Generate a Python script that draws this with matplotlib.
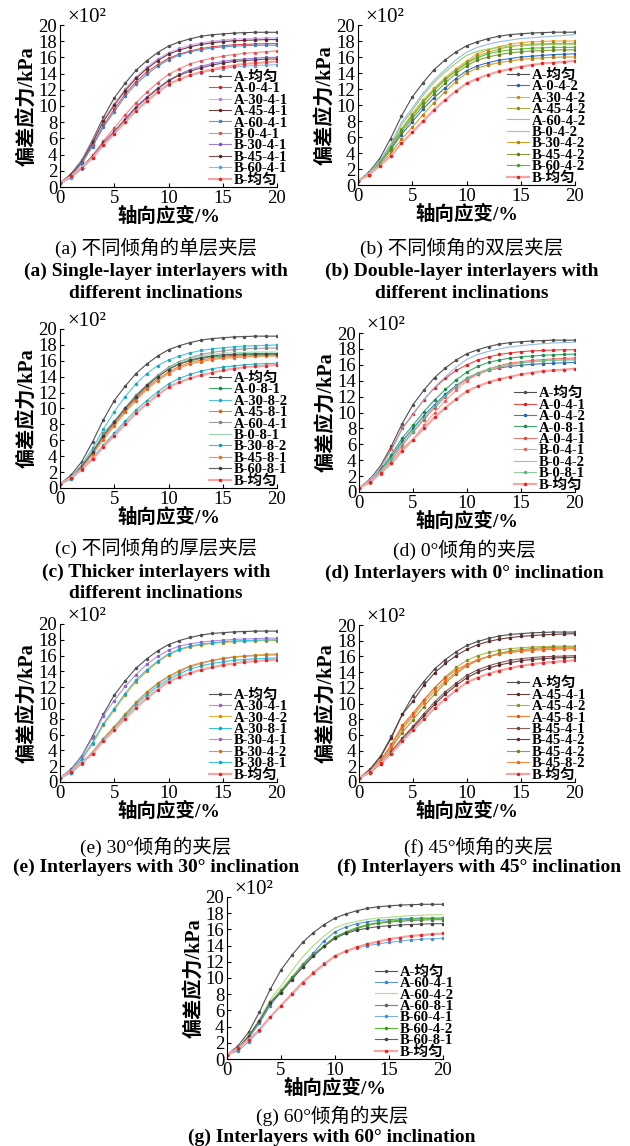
import matplotlib
matplotlib.use('Agg')
import matplotlib.pyplot as plt

plt.rcParams['font.family'] = ['Liberation Serif', 'Noto Sans CJK SC']
plt.rcParams['axes.unicode_minus'] = False

W, H = 630, 1146

# axial strain (%), values of deviatoric stress in units of 10^2 kPa
strain = list(range(0, 21))

a_uniform = [0.5, 1.6, 3.3, 5.8, 8.6, 11.0, 12.8, 14.4, 15.6, 16.6, 17.4, 17.9, 18.3, 18.6, 18.8, 18.9, 19.0, 19.05, 19.1, 19.1, 19.1]
b_uniform = [0.5, 1.3, 2.4, 3.6, 5.2, 6.6, 8.0, 9.4, 10.6, 11.7, 12.7, 13.3, 13.8, 14.2, 14.5, 14.8, 15.0, 15.2, 15.3, 15.4, 15.5]

# (a) single layer
a_A_0_4_1 = [0.5, 1.4, 3.0, 5.2, 7.6, 9.6, 11.5, 13.0, 14.2, 15.1, 15.9, 16.4, 16.8, 17.1, 17.3, 17.45, 17.55, 17.6, 17.65, 17.7, 17.7]
a_A_30_4_1 = [0.5, 1.5, 3.2, 5.6, 8.3, 10.3, 12.1, 13.6, 14.8, 15.8, 16.6, 17.1, 17.5, 17.8, 18.0, 18.15, 18.25, 18.3, 18.35, 18.4, 18.4]
a_A_45_4_1 = [0.5, 1.5, 3.1, 5.5, 8.1, 10.1, 11.9, 13.4, 14.6, 15.6, 16.4, 16.9, 17.3, 17.6, 17.8, 17.95, 18.05, 18.1, 18.15, 18.2, 18.2]
a_A_60_4_1 = [0.5, 1.3, 2.9, 5.0, 7.4, 9.3, 11.2, 12.7, 13.9, 14.9, 15.7, 16.3, 16.7, 16.95, 17.15, 17.3, 17.4, 17.45, 17.5, 17.5, 17.5]
a_B_0_4_1 = [0.5, 1.2, 2.4, 3.9, 5.7, 7.3, 8.9, 10.4, 11.7, 12.9, 13.9, 14.6, 15.2, 15.6, 15.9, 16.15, 16.35, 16.5, 16.6, 16.7, 16.8]
a_B_30_4_1 = [0.5, 1.2, 2.4, 3.8, 5.5, 6.9, 8.4, 9.9, 11.1, 12.2, 13.2, 13.9, 14.5, 14.9, 15.25, 15.5, 15.7, 15.8, 15.9, 16.0, 16.0]
a_B_45_4_1 = [0.5, 1.2, 2.4, 3.8, 5.4, 6.8, 8.3, 9.8, 11.0, 12.1, 13.1, 13.8, 14.3, 14.7, 15.05, 15.3, 15.5, 15.6, 15.7, 15.8, 15.8]
a_B_60_4_1 = [0.5, 1.1, 2.2, 3.6, 5.2, 6.6, 8.0, 9.4, 10.6, 11.7, 12.6, 13.3, 13.8, 14.1, 14.4, 14.6, 14.8, 14.9, 15.0, 15.05, 15.1]

# (b) double layer
b_A_0_4_2 = [0.5, 1.3, 2.7, 4.4, 6.3, 7.9, 9.5, 10.9, 12.1, 13.3, 14.3, 14.9, 15.3, 15.6, 15.8, 16.0, 16.1, 16.2, 16.3, 16.35, 16.4]
b_A_30_4_2 = [0.5, 1.4, 2.9, 4.9, 7.0, 8.9, 10.6, 12.1, 13.4, 14.5, 15.5, 16.4, 16.9, 17.3, 17.6, 17.8, 17.9, 17.95, 18.0, 18.0, 18.0]
b_A_45_4_2 = [0.5, 1.4, 2.9, 4.8, 6.9, 8.7, 10.4, 11.9, 13.2, 14.3, 15.3, 16.1, 16.6, 17.0, 17.3, 17.5, 17.6, 17.65, 17.7, 17.7, 17.7]
b_A_60_4_2 = [0.5, 1.5, 3.0, 5.0, 7.5, 9.3, 11.2, 12.8, 14.1, 15.2, 16.2, 16.7, 17.0, 17.2, 17.35, 17.45, 17.5, 17.55, 17.6, 17.6, 17.6]
b_B_0_4_2 = [0.5, 1.5, 3.0, 5.1, 7.8, 9.6, 11.5, 13.1, 14.4, 15.6, 16.6, 17.2, 17.6, 17.9, 18.1, 18.3, 18.4, 18.5, 18.6, 18.7, 18.8]
b_B_30_4_2 = [0.5, 1.2, 2.5, 4.0, 5.7, 7.2, 8.8, 10.3, 11.6, 12.9, 14.0, 14.6, 15.0, 15.3, 15.5, 15.7, 15.8, 15.9, 15.95, 16.0, 16.0]
b_B_45_4_2 = [0.5, 1.3, 2.7, 4.5, 6.6, 8.3, 9.9, 11.4, 12.7, 13.9, 14.9, 15.6, 16.0, 16.3, 16.5, 16.65, 16.75, 16.8, 16.85, 16.9, 16.9]
b_B_60_4_2 = [0.5, 1.3, 2.8, 4.7, 6.9, 8.6, 10.3, 11.8, 13.1, 14.2, 15.2, 15.9, 16.4, 16.7, 16.9, 17.0, 17.1, 17.15, 17.2, 17.2, 17.2]

# (c) thicker layer
c_A_0_8_1 = [0.5, 1.3, 2.7, 4.5, 6.6, 8.2, 9.9, 11.4, 12.8, 14.0, 15.0, 15.6, 16.0, 16.3, 16.5, 16.6, 16.7, 16.75, 16.8, 16.8, 16.8]
c_A_30_8_2 = [0.5, 1.3, 2.9, 5.0, 7.4, 9.6, 11.5, 13.1, 14.4, 15.4, 16.1, 16.6, 17.0, 17.3, 17.5, 17.65, 17.75, 17.85, 17.9, 17.95, 18.0]
c_A_45_8_1 = [0.5, 1.2, 2.6, 4.3, 6.3, 8.0, 9.7, 11.2, 12.6, 13.7, 14.6, 15.3, 15.8, 16.1, 16.3, 16.45, 16.55, 16.6, 16.65, 16.7, 16.7]
c_A_60_4_1 = [0.5, 1.3, 2.8, 4.6, 6.9, 8.4, 10.1, 11.7, 13.0, 14.2, 15.2, 15.9, 16.4, 16.8, 17.05, 17.25, 17.4, 17.5, 17.55, 17.6, 17.6]
c_B_0_8_1 = [0.5, 1.3, 2.7, 4.5, 6.7, 8.3, 10.0, 11.5, 12.9, 14.1, 15.1, 15.8, 16.3, 16.6, 16.8, 16.95, 17.0, 17.05, 17.1, 17.1, 17.1]
c_B_30_8_2 = [0.5, 1.1, 2.3, 3.8, 5.4, 6.9, 8.4, 9.8, 11.0, 12.1, 13.1, 13.8, 14.3, 14.7, 15.0, 15.2, 15.35, 15.5, 15.6, 15.65, 15.7]
c_B_45_8_1 = [0.5, 1.2, 2.5, 4.2, 6.1, 7.8, 9.5, 11.0, 12.4, 13.5, 14.4, 15.1, 15.6, 15.9, 16.15, 16.3, 16.4, 16.5, 16.55, 16.6, 16.6]
c_B_60_8_1 = [0.5, 1.3, 2.7, 4.5, 6.6, 8.3, 10.0, 11.5, 12.9, 14.0, 14.9, 15.6, 16.1, 16.4, 16.6, 16.75, 16.8, 16.85, 16.9, 16.9, 16.9]

# (d) 0 deg
d_A_0_4_1 = [0.5, 1.5, 3.1, 5.4, 8.0, 9.8, 11.6, 13.1, 14.3, 15.3, 16.0, 16.6, 17.0, 17.3, 17.5, 17.65, 17.75, 17.8, 17.85, 17.9, 17.9]
d_A_0_4_2 = [0.5, 1.3, 2.7, 4.4, 6.4, 8.0, 9.6, 11.0, 12.3, 13.4, 14.3, 14.9, 15.3, 15.6, 15.8, 15.95, 16.05, 16.15, 16.2, 16.25, 16.3]
d_A_0_8_1 = [0.5, 1.3, 2.8, 4.7, 6.8, 8.4, 10.1, 11.6, 12.9, 14.1, 15.1, 15.8, 16.3, 16.6, 16.85, 17.0, 17.1, 17.2, 17.25, 17.3, 17.35]
d_A_0_4_1b = [0.5, 1.2, 2.5, 4.0, 5.9, 7.5, 9.1, 10.6, 12.0, 13.2, 14.2, 14.9, 15.5, 15.9, 16.2, 16.4, 16.55, 16.65, 16.75, 16.8, 16.85]
d_B_0_4_1 = [0.5, 1.1, 2.3, 3.8, 5.5, 6.6, 8.4, 10.0, 11.5, 12.8, 14.0, 14.8, 15.3, 15.7, 16.0, 16.2, 16.4, 16.5, 16.6, 16.65, 16.7]
d_B_0_4_2 = [0.5, 1.5, 3.1, 5.2, 7.9, 9.7, 11.6, 13.2, 14.5, 15.7, 16.7, 17.3, 17.7, 18.0, 18.25, 18.4, 18.55, 18.65, 18.75, 18.8, 18.85]
d_B_0_8_1 = [0.5, 1.2, 2.6, 4.2, 6.1, 7.7, 9.3, 10.8, 12.1, 13.3, 14.4, 15.0, 15.5, 15.8, 16.05, 16.25, 16.4, 16.5, 16.55, 16.6, 16.6]

# (e) 30 deg
e_A_30_4_1 = [0.5, 1.5, 3.2, 5.6, 8.4, 10.3, 12.1, 13.6, 14.9, 15.9, 16.7, 17.2, 17.5, 17.7, 17.85, 17.95, 18.05, 18.1, 18.15, 18.2, 18.2]
e_A_30_4_2 = [0.5, 1.3, 2.8, 4.8, 7.2, 9.1, 11.0, 12.7, 14.0, 15.2, 16.1, 16.7, 17.1, 17.35, 17.55, 17.65, 17.75, 17.8, 17.85, 17.9, 17.9]
e_A_30_8_1 = [0.5, 1.3, 2.9, 5.0, 7.4, 9.3, 11.2, 12.9, 14.2, 15.3, 16.2, 16.8, 17.2, 17.45, 17.6, 17.75, 17.85, 17.9, 17.95, 18.0, 18.0]
e_B_30_4_1 = [0.5, 1.2, 2.4, 3.8, 5.5, 7.0, 8.5, 10.0, 11.3, 12.4, 13.3, 14.0, 14.6, 15.0, 15.35, 15.6, 15.8, 15.9, 16.0, 16.05, 16.1]
e_B_30_4_2 = [0.5, 1.2, 2.4, 3.8, 5.5, 7.0, 8.6, 10.1, 11.4, 12.5, 13.4, 14.1, 14.7, 15.1, 15.4, 15.65, 15.85, 15.95, 16.05, 16.15, 16.2]
e_B_30_8_1 = [0.5, 1.1, 2.3, 3.7, 5.4, 6.8, 8.3, 9.8, 11.0, 12.1, 13.0, 13.7, 14.3, 14.7, 15.0, 15.2, 15.4, 15.5, 15.6, 15.65, 15.7]

# (f) 45 deg
f_A_45_4_1 = [0.5, 1.5, 3.2, 5.6, 8.6, 10.3, 12.3, 13.9, 15.1, 16.1, 16.9, 17.5, 17.9, 18.2, 18.4, 18.55, 18.65, 18.75, 18.8, 18.85, 18.9]
f_A_45_4_2 = [0.5, 1.3, 2.8, 4.7, 7.0, 8.6, 10.4, 12.0, 13.4, 14.6, 15.5, 16.1, 16.5, 16.8, 17.0, 17.1, 17.2, 17.25, 17.3, 17.3, 17.3]
f_A_45_8_1 = [0.5, 1.3, 2.8, 4.8, 7.2, 8.8, 10.5, 12.0, 13.3, 14.3, 15.0, 15.6, 16.0, 16.3, 16.5, 16.65, 16.75, 16.85, 16.9, 16.95, 17.0]
f_B_45_4_1 = [0.5, 1.2, 2.4, 3.9, 5.6, 7.1, 8.7, 10.2, 11.5, 12.6, 13.6, 14.3, 14.8, 15.2, 15.5, 15.7, 15.85, 15.95, 16.0, 16.05, 16.1]
f_B_45_4_2 = [0.5, 1.2, 2.3, 3.7, 5.4, 6.9, 8.4, 9.9, 11.2, 12.3, 13.3, 14.0, 14.5, 14.9, 15.2, 15.45, 15.6, 15.7, 15.8, 15.85, 15.9]
f_B_45_4_2b = [0.5, 1.2, 2.6, 4.3, 6.3, 7.9, 9.6, 11.2, 12.6, 13.8, 14.8, 15.5, 16.0, 16.4, 16.7, 16.85, 17.0, 17.1, 17.15, 17.2, 17.2]
f_B_45_8_2 = [0.5, 1.3, 2.7, 4.5, 6.7, 8.4, 10.1, 11.6, 12.9, 14.0, 14.9, 15.5, 16.0, 16.3, 16.55, 16.7, 16.85, 16.95, 17.0, 17.05, 17.1]

# (g) 60 deg
g_A_60_4_1 = [0.5, 1.1, 2.6, 4.4, 6.6, 8.3, 10.0, 11.7, 13.1, 14.6, 15.7, 16.3, 16.7, 16.95, 17.1, 17.2, 17.3, 17.35, 17.4, 17.4, 17.4]
g_A_60_4_2 = [0.5, 1.3, 2.9, 4.9, 7.3, 9.0, 10.9, 12.6, 14.0, 15.2, 16.2, 16.7, 17.0, 17.25, 17.4, 17.5, 17.6, 17.7, 17.75, 17.8, 17.8]
g_A_60_8_1 = [0.5, 1.3, 2.8, 4.7, 7.0, 8.3, 9.9, 11.4, 12.8, 14.0, 15.0, 15.6, 16.1, 16.5, 16.75, 16.9, 17.0, 17.1, 17.15, 17.2, 17.2]
g_B_60_4_1 = [0.5, 1.0, 2.1, 3.5, 5.2, 6.6, 8.1, 9.5, 10.7, 11.8, 12.7, 13.3, 13.7, 14.0, 14.2, 14.4, 14.55, 14.7, 14.8, 14.85, 14.9]
g_B_60_4_2 = [0.5, 1.3, 2.8, 4.7, 7.0, 8.5, 10.1, 11.6, 12.9, 14.0, 15.1, 15.7, 16.2, 16.6, 16.85, 17.0, 17.15, 17.25, 17.3, 17.35, 17.4]
g_B_60_8_1 = [0.5, 1.3, 2.8, 4.7, 6.9, 8.2, 9.8, 11.3, 12.7, 13.9, 14.9, 15.5, 15.9, 16.15, 16.35, 16.45, 16.55, 16.6, 16.65, 16.7, 16.7]

BLACK = '#505050'
PINK = '#f4a6a6'

# (label, data, line colour, marker colour or None)
panels = [
    dict(box=(60, 25, 277, 187), cap_x=156, cap_y=(248, 271, 293),
         cn='(a) 不同倾角的单层夹层', en=['(a) Single-layer interlayers with', 'different inclinations'],
         series=[('A-均匀', a_uniform, BLACK, BLACK), ('A-0-4-1', a_A_0_4_1, '#ec4b4b', '#e02020'),
                 ('A-30-4-1', a_A_30_4_1, '#d2b0e6', '#b080d8'), ('A-45-4-1', a_A_45_4_1, '#6e4040', '#5a2a2a'),
                 ('A-60-4-1', a_A_60_4_1, '#5c9ad6', '#3d7fc4'), ('B-0-4-1', a_B_0_4_1, '#f08a8a', '#e05050'),
                 ('B-30-4-1', a_B_30_4_1, '#a07ad8', '#8050c8'), ('B-45-4-1', a_B_45_4_1, '#7a5050', '#502828'),
                 ('B-60-4-1', a_B_60_4_1, '#8cbce8', '#5a9ad8'), ('B-均匀', b_uniform, PINK, '#e82020')]),
    dict(box=(358, 25, 575, 185), cap_x=462, cap_y=(248, 271, 293),
         cn='(b) 不同倾角的双层夹层', en=['(b) Double-layer interlayers with', 'different inclinations'],
         series=[('A-均匀', a_uniform, BLACK, BLACK), ('A-0-4-2', b_A_0_4_2, '#3a7cc8', '#2060b8'),
                 ('A-30-4-2', b_A_30_4_2, '#e8b040', '#d08a10'), ('A-45-4-2', b_A_45_4_2, '#b0b050', '#8a8a20'),
                 ('A-60-4-2', b_A_60_4_2, '#98cc68', None), ('B-0-4-2', b_B_0_4_2, '#94bce4', None),
                 ('B-30-4-2', b_B_30_4_2, '#d8a030', '#c07808'), ('B-45-4-2', b_B_45_4_2, '#8a9a40', '#6a7a20'),
                 ('B-60-4-2', b_B_60_4_2, '#68c040', '#48a020'), ('B-均匀', b_uniform, PINK, '#e82020')]),
    dict(box=(60, 329, 277, 488), cap_x=156, cap_y=(548, 572, 593),
         cn='(c) 不同倾角的厚层夹层', en=['(c) Thicker interlayers with', 'different inclinations'],
         series=[('A-均匀', a_uniform, BLACK, BLACK), ('A-0-8-1', c_A_0_8_1, '#40a868', '#208848'),
                 ('A-30-8-2', c_A_30_8_2, '#50c8d8', '#20a8c0'), ('A-45-8-1', c_A_45_8_1, '#f08040', '#e05810'),
                 ('A-60-4-1', c_A_60_4_1, '#a0a0a0', '#808080'), ('B-0-8-1', c_B_0_8_1, '#98d4b0', None),
                 ('B-30-8-2', c_B_30_8_2, '#40bcd0', '#10a0b8'), ('B-45-8-1', c_B_45_8_1, '#f49050', '#e86820'),
                 ('B-60-8-1', c_B_60_8_1, '#606060', '#404040'), ('B-均匀', b_uniform, PINK, '#e82020')]),
    dict(box=(359, 333, 575, 492), cap_x=464, cap_y=(550, 573),
         cn='(d) 0°倾角的夹层', en=['(d) Interlayers with 0° inclination'],
         series=[('A-均匀', a_uniform, BLACK, BLACK), ('A-0-4-1', d_A_0_4_1, '#ec4b4b', '#e02020'),
                 ('A-0-4-2', d_A_0_4_2, '#3a7cc8', '#2060b8'), ('A-0-8-1', d_A_0_8_1, '#40a868', '#208848'),
                 ('A-0-4-1', d_A_0_4_1b, '#f07878', '#e04848'), ('B-0-4-1', d_B_0_4_1, '#f4a0a0', '#e86060'),
                 ('B-0-4-2', d_B_0_4_2, '#94bce4', None), ('B-0-8-1', d_B_0_8_1, '#88cca0', '#60b080'),
                 ('B-均匀', b_uniform, PINK, '#e82020')]),
    dict(box=(60, 624, 277, 782), cap_x=156, cap_y=(847, 867),
         cn='(e) 30°倾角的夹层', en=['(e) Interlayers with 30° inclination'],
         series=[('A-均匀', a_uniform, BLACK, BLACK), ('A-30-4-1', e_A_30_4_1, '#b090e0', '#9060d0'),
                 ('A-30-4-2', e_A_30_4_2, '#e8b040', '#d08a10'), ('A-30-8-1', e_A_30_8_1, '#40c4d4', '#10a8c0'),
                 ('B-30-4-1', e_B_30_4_1, '#b090e0', '#9060d0'), ('B-30-4-2', e_B_30_4_2, '#d8a030', '#c07808'),
                 ('B-30-8-1', e_B_30_8_1, '#40c4d4', '#10a8c0'), ('B-均匀', b_uniform, PINK, '#e82020')]),
    dict(box=(359, 625, 575, 782), cap_x=479, cap_y=(847, 867),
         cn='(f) 45°倾角的夹层', en=['(f) Interlayers with 45° inclination'],
         series=[('A-均匀', a_uniform, BLACK, BLACK), ('A-45-4-1', f_A_45_4_1, '#6e4040', '#5a2a2a'),
                 ('A-45-4-2', f_A_45_4_2, '#b0b850', '#8a9020'), ('A-45-8-1', f_A_45_8_1, '#f08040', '#e05810'),
                 ('B-45-4-1', f_B_45_4_1, '#906060', '#704040'), ('B-45-4-2', f_B_45_4_2, '#6e4040', '#5a2a2a'),
                 ('B-45-4-2', f_B_45_4_2b, '#98a040', '#788020'), ('B-45-8-2', f_B_45_8_2, '#f49050', '#e86820'),
                 ('B-均匀', b_uniform, PINK, '#e82020')]),
    dict(box=(227, 897, 443, 1059), cap_x=332, cap_y=(1116, 1137),
         cn='(g) 60°倾角的夹层', en=['(g) Interlayers with 60° inclination'],
         series=[('A-均匀', a_uniform, BLACK, BLACK), ('A-60-4-1', g_A_60_4_1, '#5c9ad6', '#3d7fc4'),
                 ('A-60-4-2', g_A_60_4_2, '#b0dc80', None), ('A-60-8-1', g_A_60_8_1, '#808080', '#606060'),
                 ('B-60-4-1', g_B_60_4_1, '#7ab0e4', '#4a8ad0'), ('B-60-4-2', g_B_60_4_2, '#58b838', '#389818'),
                 ('B-60-8-1', g_B_60_8_1, '#606060', '#404040'), ('B-均匀', b_uniform, PINK, '#e82020')]),
]

fig = plt.figure(figsize=(W / 100, H / 100), dpi=100)

for p in panels:
    x0, y0, x1, y1 = p['box']
    ax = fig.add_axes([x0 / W, 1 - y1 / H, (x1 - x0) / W, (y1 - y0) / H])
    for label, vals, lc, mc in p['series']:
        lw = 1.6 if lc == PINK else 0.8
        if mc is None:
            ax.plot(strain, vals, color=lc, lw=lw, label=label)
        else:
            ax.plot(strain, vals, color=lc, lw=lw, marker='o', ms=1.5,
                    mfc=mc, mec=mc, label=label)
    ax.set_xlim(0, 20)
    ax.set_ylim(0, 20)
    ax.set_xticks([0, 5, 10, 15, 20])
    ax.set_yticks(range(0, 21, 2))
    ax.tick_params(direction='in', length=3, width=0.8, labelsize=13.5, pad=2)
    for s in ['top', 'right']:
        ax.spines[s].set_visible(False)
    ax.set_xlabel('轴向应变/%', fontsize=14, fontweight='bold', labelpad=0)
    ax.set_ylabel('偏差应力/kPa', fontsize=14.5, fontweight='bold', labelpad=1)
    ax.text(0.035, 0.985, '×10²', transform=ax.transAxes, fontsize=15, va='bottom', ha='left')
    ax.legend(loc='lower right', bbox_to_anchor=(1.05, 0.0), frameon=False,
              prop={'family': ['Liberation Serif', 'Noto Sans CJK SC'], 'weight': 'bold', 'size': 10.5},
              labelspacing=-0.12, handlelength=1.5, handletextpad=0.2,
              borderpad=0, borderaxespad=0)

    fig.text(p['cap_x'] / W, 1 - p['cap_y'][0] / H, p['cn'], fontsize=14,
             ha='center', va='center')
    for line, yy in zip(p['en'], p['cap_y'][1:]):
        fig.text(p['cap_x'] / W, 1 - yy / H, line, fontsize=14, fontweight='bold',
                 ha='center', va='center')

fig.savefig('out.png', dpi=100)
